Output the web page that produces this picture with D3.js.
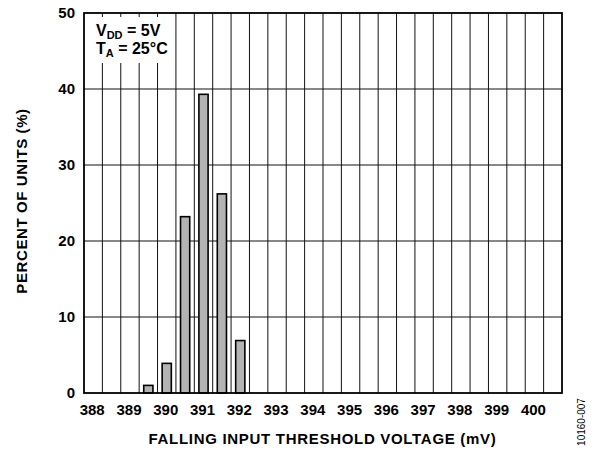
<!DOCTYPE html>
<html>
<head>
<meta charset="utf-8">
<script src="https://cdn.jsdelivr.net/npm/d3@7"></script>
<style>
  body { margin: 0; background: #fff; }
  svg { font-family: "Liberation Sans", Arial, sans-serif; }
</style>
</head>
<body>
<svg id="chart" width="595" height="450"></svg>
<script>
// histogram bins (mV) and share of units (%)
const binCenters = [389.5, 390, 390.5, 391, 391.5, 392];
const percents = [1, 3.9, 23.2, 39.3, 26.2, 6.9];
const xTicks = [388, 389, 390, 391, 392, 393, 394, 395, 396, 397, 398, 399, 400];
const yTicks = [0, 10, 20, 30, 40, 50];
const binWidth = 0.5;

function drawChart() {
    const svg = d3.select("#chart");
    svg.selectAll("*").remove();

    const left = 84, right = 562, top = 13, bottom = 393;

    const xScale = d3.scaleLinear()
        .domain([387.75, 400.75])
        .range([left, right]);

    const yScale = d3.scaleLinear()
        .domain([0, 50])
        .range([bottom, top]);

    // vertical grid at bin edges
    const edges = d3.range(388.25, 400.75, binWidth);
    svg.append("g")
        .selectAll("line")
        .data(edges)
        .enter()
        .append("line")
        .attr("x1", d => xScale(d))
        .attr("x2", d => xScale(d))
        .attr("y1", top)
        .attr("y2", bottom)
        .attr("stroke", "#111")
        .attr("stroke-width", 1);

    // horizontal grid
    svg.append("g")
        .selectAll("line")
        .data(yTicks.slice(1, -1))
        .enter()
        .append("line")
        .attr("x1", left)
        .attr("x2", right)
        .attr("y1", d => yScale(d))
        .attr("y2", d => yScale(d))
        .attr("stroke", "#111")
        .attr("stroke-width", 1);

    // bars
    const bars = binCenters.map((c, i) => ({ x: c, y: percents[i] }));
    svg.append("g")
        .selectAll("rect")
        .data(bars)
        .enter()
        .append("rect")
        .attr("x", d => xScale(d.x - binWidth / 4))
        .attr("width", xScale(binWidth / 2) - xScale(0))
        .attr("y", d => yScale(d.y))
        .attr("height", d => yScale(0) - yScale(d.y))
        .attr("fill", "#b3b3b3")
        .attr("stroke", "#000")
        .attr("stroke-width", 1.6);

    // legend box
    svg.append("rect")
        .attr("x", 94)
        .attr("y", 17)
        .attr("width", 77)
        .attr("height", 46)
        .attr("fill", "#fff");

    const legend = svg.append("g")
        .attr("font-size", 16)
        .attr("font-weight", "bold")
        .attr("fill", "#000");

    const l1 = legend.append("text").attr("x", 96).attr("y", 36);
    l1.append("tspan").text("V");
    l1.append("tspan").attr("font-size", 11).attr("dy", 3).text("DD");
    l1.append("tspan").attr("dy", -3).text(" = 5V");

    const l2 = legend.append("text").attr("x", 96).attr("y", 54);
    l2.append("tspan").text("T");
    l2.append("tspan").attr("font-size", 11).attr("dy", 3).text("A");
    l2.append("tspan").attr("dy", -3).text(" = 25°C");

    // frame
    svg.append("rect")
        .attr("x", left)
        .attr("y", top)
        .attr("width", right - left)
        .attr("height", bottom - top)
        .attr("fill", "none")
        .attr("stroke", "#000")
        .attr("stroke-width", 1.8);

    // axes labels
    const xAxis = svg.append("g")
        .attr("transform", `translate(0,${bottom})`)
        .call(d3.axisBottom(xScale).tickValues(xTicks).tickSize(0).tickPadding(11.5).tickFormat(d3.format("d")));
    xAxis.select(".domain").remove();
    xAxis.selectAll("text")
        .attr("dx", -1.5)
        .attr("font-size", 15)
        .attr("font-weight", "bold")
        .attr("font-family", "Liberation Sans, Arial, sans-serif")
        .attr("fill", "#000");

    const yAxis = svg.append("g")
        .attr("transform", `translate(${left},0)`)
        .call(d3.axisLeft(yScale).tickValues(yTicks).tickSize(0).tickPadding(9));
    yAxis.select(".domain").remove();
    yAxis.selectAll("text")
        .attr("font-size", 15)
        .attr("font-weight", "bold")
        .attr("font-family", "Liberation Sans, Arial, sans-serif")
        .attr("fill", "#000");

    // titles
    svg.append("text")
        .attr("x", 322.5)
        .attr("y", 444)
        .attr("text-anchor", "middle")
        .attr("font-size", 15)
        .attr("letter-spacing", 0.7)
        .attr("font-weight", "bold")
        .text("FALLING INPUT THRESHOLD VOLTAGE (mV)");

    svg.append("text")
        .attr("transform", "translate(27,201) rotate(-90)")
        .attr("text-anchor", "middle")
        .attr("font-size", 15)
        .attr("letter-spacing", 0.6)
        .attr("font-weight", "bold")
        .text("PERCENT OF UNITS (%)");

    svg.append("text")
        .attr("transform", "translate(585,422) rotate(-90)")
        .attr("text-anchor", "middle")
        .attr("font-size", 10)
        .text("10160-007");
}

drawChart();
</script>
</body>
</html>
